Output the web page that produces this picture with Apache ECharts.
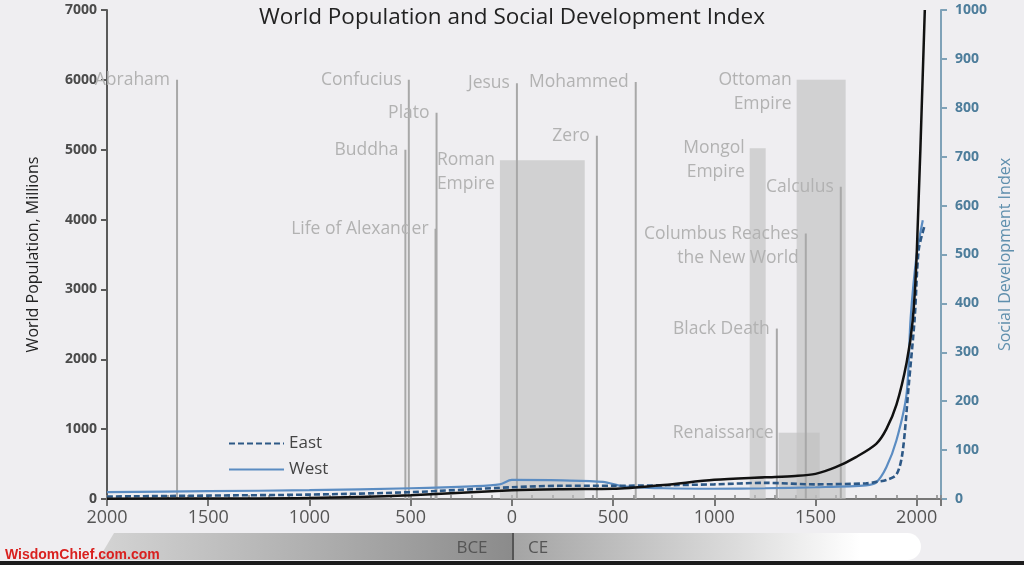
<!DOCTYPE html>
<html>
<head>
<meta charset="utf-8">
<script src="https://cdn.jsdelivr.net/npm/echarts@6/dist/echarts.min.js"></script>
<style>
html,body{margin:0;padding:0;background:#efeef1;}
#chart{width:1024px;height:565px;}
</style>
</head>
<body>
<div id="chart"></div>
<script>
// ---------- DATA ----------
const xTickLabels = [2000, 1500, 1000, 500, 0, 500, 1000, 1500, 2000];

const popYears  = [-2000, -1500, -1000, -500, 0, 250, 500, 750, 1000, 1250, 1400, 1500, 1600, 1700, 1800, 1850, 1900, 1950, 1980, 2000, 2040];
const popValues = [5, 8, 15, 55, 125, 140, 145, 200, 275, 310, 330, 360, 455, 600, 790, 1000, 1350, 1950, 2550, 3500, 7000];

const eastYears  = [-2000, -1500, -1000, -500, 0, 250, 500, 750, 1000, 1250, 1500, 1750, 1800, 1850, 1900, 1930, 1960, 1990, 2010, 2040];
const eastValues = [5, 7, 9, 14, 24, 27, 27, 28, 30, 33, 30, 32, 35, 39, 50, 95, 230, 370, 510, 560];

const westYears  = [-2000, -1500, -1000, -500, -200, -60, 0, 250, 450, 550, 750, 1000, 1250, 1500, 1750, 1800, 1850, 1900, 1950, 1970, 2000, 2030];
const westValues = [14, 16, 18, 22, 26, 30, 39, 38, 35, 26, 22, 21, 22, 24, 28, 34, 65, 120, 215, 370, 500, 570];

const eventNames = ['Abraham', 'Buddha', 'Confucius', 'Plato', 'Life of Alexander', 'Jesus', 'Zero', 'Mohammed', 'Black Death', 'Columbus Reaches\nthe New World', 'Calculus'];
const eventYears = [-1654, -526, -509, -372, -377, 25, 420, 612, 1309, 1452, 1625];
const eventTops  = [6000, 5000, 6000, 5530, 3870, 5950, 5200, 5970, 2440, 3800, 4470];

const empireNames  = ['Roman\nEmpire', 'Mongol\nEmpire', 'Ottoman\nEmpire', 'Renaissance'];
const empireStarts = [-59, 1175, 1407, 1318];
const empireEnds   = [360, 1254, 1649, 1521];
const empireTops   = [4850, 5020, 6000, 950];

// ---------- CHART ----------
const zip = (a, b) => a.map((v, i) => [v, b[i]]);
const FONT = '"Open Sans", "Noto Sans", sans-serif';

const chart = echarts.init(document.getElementById('chart'), null, {renderer: 'canvas'});

function renderEvent(params, api) {
  const base = api.coord([api.value(0), 0]);
  const top = api.coord([api.value(0), api.value(1)]);
  return {
    type: 'group',
    children: [
      {type: 'line', shape: {x1: base[0], y1: base[1], x2: top[0], y2: top[1]},
       style: {stroke: '#a8a8a8', lineWidth: 2}},
      {type: 'text', style: {text: eventNames[params.dataIndex], x: top[0] - 7, y: top[1] - 12,
        align: 'right', verticalAlign: 'top', fill: '#b2b2b2', fontSize: 17.5, fontFamily: FONT, lineHeight: 24}}
    ]
  };
}

function renderEmpire(params, api) {
  const tl = api.coord([api.value(0), api.value(2)]);
  const br = api.coord([api.value(1), 0]);
  return {
    type: 'group',
    children: [
      {type: 'rect', shape: {x: tl[0], y: tl[1], width: br[0] - tl[0], height: br[1] - tl[1]},
       style: {fill: 'rgba(190,190,190,0.62)'}},
      {type: 'text', style: {text: empireNames[params.dataIndex], x: tl[0] - 5, y: tl[1] - 12,
        align: 'right', verticalAlign: 'top', fill: '#b2b2b2', fontSize: 17.5, fontFamily: FONT, lineHeight: 24}}
    ]
  };
}

const option = {
  backgroundColor: '#efeef1',
  animation: false,
  title: {
    text: 'World Population and Social Development Index',
    left: 'center', top: 1,
    textStyle: {fontFamily: FONT, fontSize: 22.5, fontWeight: 'normal', color: '#222'}
  },
  legend: {
    data: ['East', 'West'],
    orient: 'vertical', left: 223, top: 430,
    itemWidth: 55, itemHeight: 14, itemGap: 9,
    itemStyle: {opacity: 0},
    textStyle: {fontFamily: FONT, fontSize: 17, color: '#444'}
  },
  grid: {left: 107, right: 83, top: 10, bottom: 66, containLabel: false, outerBoundsMode: 'none'},
  xAxis: [{
    type: 'value', min: -2000, max: 2120, interval: 500,
    axisLine: {show: true, onZero: false, lineStyle: {color: '#777', width: 2}},
    axisTick: {show: true, length: 7, lineStyle: {color: '#777', width: 2}},
    splitLine: {show: false},
    axisLabel: {
      margin: 10, fontFamily: FONT, fontSize: 18, color: '#555',
      formatter: v => (v % 500 === 0 ? String(xTickLabels[(v + 2000) / 500]) : '')
    }
  }, {
    type: 'value', min: -2000, max: 2120, interval: 100, position: 'bottom',
    axisLine: {show: false, onZero: false},
    axisTick: {show: true, inside: true, length: 4, lineStyle: {color: '#888', width: 1.5}},
    axisLabel: {show: false}, splitLine: {show: false}
  }],
  yAxis: [{
    type: 'value', min: 0, max: 7000, interval: 1000,
    name: 'World Population, Millions', nameLocation: 'middle', nameGap: 66, nameRotate: 90,
    nameTextStyle: {fontFamily: FONT, fontSize: 16, color: '#222'},
    axisLine: {show: true, onZero: false, lineStyle: {color: '#5a5a5a', width: 2}},
    axisTick: {show: true, length: 6, lineStyle: {color: '#5a5a5a', width: 2}},
    splitLine: {show: false},
    axisLabel: {margin: 10, fontFamily: FONT, fontSize: 14, fontWeight: 'bold', color: '#4a4a4a',
      formatter: v => String(v)}
  }, {
    type: 'value', min: 0, max: 1000, interval: 100, position: 'right',
    name: 'Social Development Index', nameLocation: 'middle', nameGap: 54, nameRotate: 90,
    nameTextStyle: {fontFamily: FONT, fontSize: 16, color: '#5f8fad'},
    axisLine: {show: true, onZero: false, lineStyle: {color: '#7fa2b8', width: 2}},
    axisTick: {show: true, length: 6, lineStyle: {color: '#7fa2b8', width: 2}},
    splitLine: {show: false},
    axisLabel: {margin: 14, fontFamily: FONT, fontSize: 14, fontWeight: 'bold', color: '#4d7d9b',
      formatter: v => String(v)}
  }],
  series: [
    {
      type: 'custom', name: 'Empires', xAxisIndex: 0, yAxisIndex: 0, z: 1,
      renderItem: renderEmpire,
      data: empireStarts.map((s, i) => [s, empireEnds[i], empireTops[i]]),
      encode: {x: [0, 1], y: 2}, silent: true
    },
    {
      type: 'custom', name: 'Events', xAxisIndex: 0, yAxisIndex: 0, z: 2,
      renderItem: renderEvent,
      data: zip(eventYears, eventTops),
      encode: {x: 0, y: 1}, silent: true
    },
    {
      type: 'line', name: 'West', xAxisIndex: 0, yAxisIndex: 1, z: 3,
      data: zip(westYears, westValues), symbol: 'none', smooth: 0.3,
      lineStyle: {color: '#5b8cc2', width: 2.2}, itemStyle: {color: '#5b8cc2'}
    },
    {
      type: 'line', name: 'East', xAxisIndex: 0, yAxisIndex: 1, z: 4,
      data: zip(eastYears, eastValues), symbol: 'none', smooth: 0.3,
      lineStyle: {color: '#2d5886', width: 2.6, type: [6, 3]}, itemStyle: {color: '#2d5886'}
    },
    {
      type: 'line', name: 'World Population', xAxisIndex: 0, yAxisIndex: 0, z: 5,
      data: zip(popYears, popValues), symbol: 'none', smooth: 0.3,
      lineStyle: {color: '#111', width: 2.5}, itemStyle: {color: '#111'}
    }
  ],
  graphic: [
    {type: 'polygon', z: 0, shape: {points: [[98, 560], [114, 533], [513, 533], [513, 560]]},
     style: {fill: new echarts.graphic.LinearGradient(0, 0, 1, 0, [
       {offset: 0, color: '#d4d4d4'}, {offset: 0.6, color: '#a9a9a9'}, {offset: 1, color: '#8b8b8b'}])}},
    {type: 'rect', z: 0, shape: {x: 513, y: 533, width: 408, height: 27, r: [0, 14, 14, 0]},
     style: {fill: new echarts.graphic.LinearGradient(0, 0, 1, 0, [
       {offset: 0, color: '#a4a4a4'}, {offset: 0.55, color: '#dcdcdc'}, {offset: 0.85, color: '#ffffff'}, {offset: 1, color: '#ffffff'}])}},
    {type: 'rect', z: 1, shape: {x: 512, y: 533, width: 2, height: 27}, style: {fill: '#555'}},
    {type: 'text', z: 2, style: {text: 'BCE', x: 472, y: 548, align: 'center', verticalAlign: 'middle',
      fill: '#555', fontSize: 17, fontFamily: FONT}},
    {type: 'text', z: 2, style: {text: 'CE', x: 538, y: 548, align: 'center', verticalAlign: 'middle',
      fill: '#555', fontSize: 17, fontFamily: FONT}},
    {type: 'text', z: 3, style: {text: 'WisdomChief.com.com', x: 5, y: 555, align: 'left', verticalAlign: 'middle',
      fill: '#d9211f', fontSize: 14, fontWeight: 'bold', fontFamily: '"Liberation Sans", sans-serif'}},
    {type: 'rect', z: 3, shape: {x: 0, y: 561, width: 1024, height: 4}, style: {fill: '#1c1c1c'}}
  ]
};

chart.setOption(option);
</script>
</body>
</html>
